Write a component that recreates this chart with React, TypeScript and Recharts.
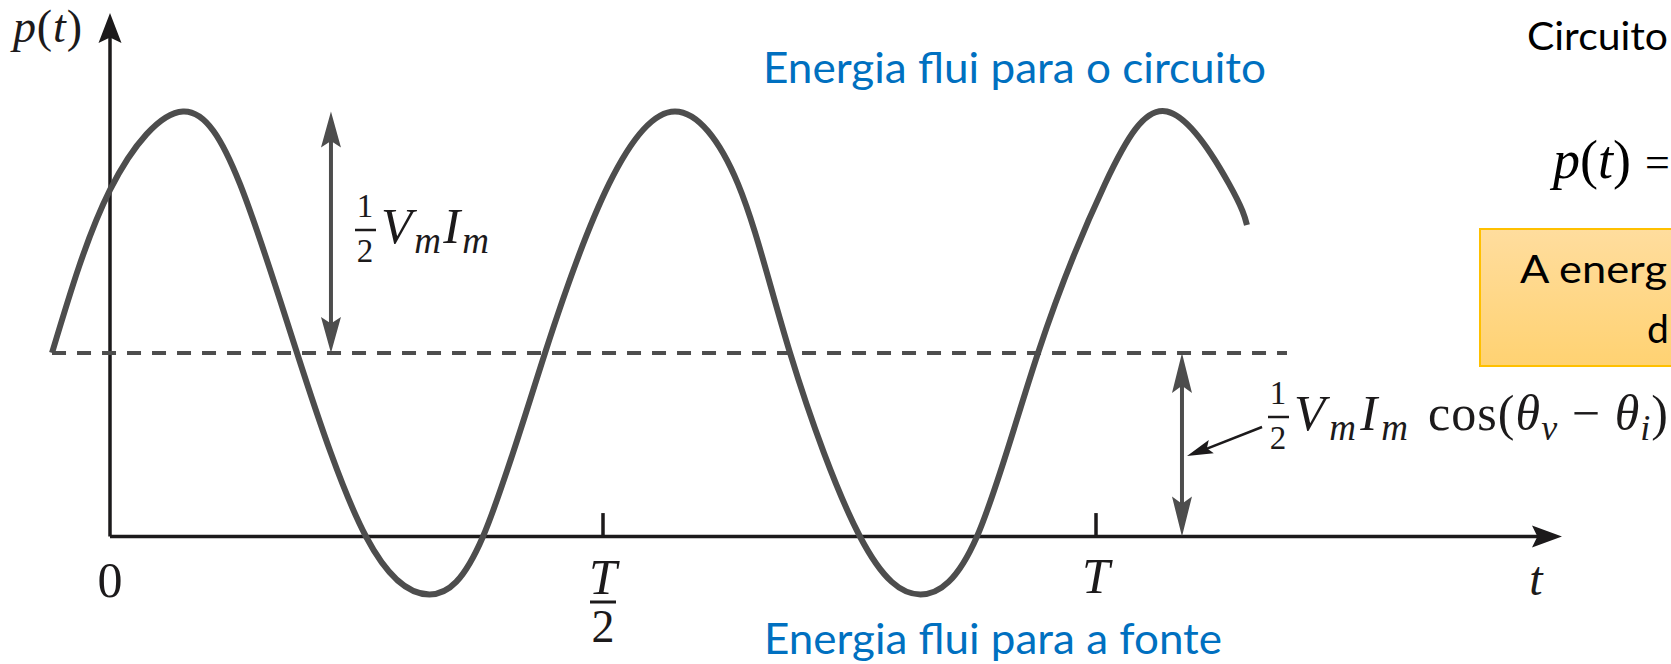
import { Line, LineChart, ReferenceDot, ReferenceLine, XAxis, YAxis } from "recharts";

// instantaneous power p(t): t in periods T, p in units of ½·Vm·Im above the time axis
const curveT = [
  -0.0588, 0, 0.074, 0.1318, 0.1897, 0.2596, 0.324, 0.3783, 0.4412, 0.5061, 0.573,
  0.6369, 0.6897, 0.7606, 0.822, 0.8793, 0.9412, 1.0091, 1.072, 1.1349, 1.1531,
];
const curveP = [
  0.76, 1.435, 1.76, 1.46, 0.76, 0, -0.24, 0, 0.76, 1.46, 1.76,
  1.46, 0.76, 0, -0.24, 0, 0.76, 1.46, 1.76, 1.46, 1.29,
];

// average power ½·Vm·Im·cos(θv − θi) and the peak it swings up to
const meanP = 0.76;
const peakP = 1.76;
const meanSpan = [-0.0588, 1.1937];

const tickValues = [0, 0.5, 1];
const tickMarks = [0.5, 1];
const tickMarkHeight = 0.097;

const yAxisTip = 2.168;
const xAxisTip = 1.4726;
const swingArrowT = 0.2241;
const meanArrowT = 1.0872;
const pointerFrom = { t: 1.1684, p: 0.4534 };
const pointerTo = { t: 1.0923, p: 0.3333 };

const data = curveT.map((t, i) => ({ t, p: curveP[i] }));

const W = 1671;
const H = 664;
const ORIGIN_X = 110;
const AXIS_Y = 536.5;
const PX_T = 986;
const PX_P = 241.5;
const AXIS_H = 30;
const X_DOMAIN: [number, number] = [-0.07, 1.5];
const Y_DOMAIN: [number, number] = [-(H - AXIS_H - AXIS_Y) / PX_P, AXIS_Y / PX_P];
const MARGIN = {
  top: 0,
  bottom: 0,
  left: ORIGIN_X + X_DOMAIN[0] * PX_T,
  right: W - (ORIGIN_X + X_DOMAIN[1] * PX_T),
};

const SERIF = "'Liberation Serif', 'Times New Roman', serif";
const SANS = "Lato, 'Open Sans', sans-serif";
const INK = "#1c1a1b";
const GREY = "#4d4d4d";
const BLUE = "#0070c0";

// stealth-style arrow head with its tip on the dot's position
function arrowHead(angle: number, len: number, half: number, fill: string) {
  return (props: any) => {
    const { cx, cy } = props;
    if (cx == null || cy == null) return <g />;
    const notch = len * 0.18;
    const pts = `0,0 ${-len},${-half} ${-len + notch},0 ${-len},${half}`;
    return <polygon points={pts} fill={fill} transform={`translate(${cx},${cy}) rotate(${angle})`} />;
  };
}

function TimeTick({ x, y, payload }: { x?: number; y?: number; payload?: { value: number } }) {
  if (x == null || y == null || payload == null) return null;
  const v = payload.value;
  if (v === 0) {
    return (
      <text x={x} y={y - 37} textAnchor="middle" fontFamily={SERIF} fontSize={50} fill={INK}>
        0
      </text>
    );
  }
  if (v === 0.5) {
    return (
      <g fontFamily={SERIF} fill={INK}>
        <text x={x} y={y - 40} textAnchor="middle" fontSize={50} fontStyle="italic">
          T
        </text>
        <line x1={x - 13} x2={x + 13} y1={y - 32} y2={y - 32} stroke={INK} strokeWidth={3} />
        <text x={x} y={y + 8} textAnchor="middle" fontSize={46}>
          2
        </text>
      </g>
    );
  }
  return (
    <text x={x} y={y - 41} textAnchor="middle" fontFamily={SERIF} fontSize={50} fontStyle="italic" fill={INK}>
      T
    </text>
  );
}

function HalfVmIm({ x, y, width }: { x: number; y: number; width: number }) {
  // x: left edge of the fraction, y: baseline of V
  return (
    <g fontFamily={SERIF} fill={INK}>
      <text x={x + 10} y={y - 26} textAnchor="middle" fontSize={33}>
        1
      </text>
      <line x1={x} x2={x + 21} y1={y - 13} y2={y - 13} stroke={INK} strokeWidth={2.5} />
      <text x={x + 10} y={y + 19} textAnchor="middle" fontSize={33}>
        2
      </text>
      <text x={x + 26} y={y} fontSize={51} fontStyle="italic" textLength={width} lengthAdjust="spacing">
        V
        <tspan fontSize={37} dy={10}>
          m
        </tspan>
        <tspan dy={-10}>I</tspan>
        <tspan fontSize={37} dy={10}>
          m
        </tspan>
      </text>
    </g>
  );
}

export default function App() {
  return (
    <div style={{ position: "absolute", left: 0, top: 0, width: W, height: H, overflow: "hidden", background: "#fff" }}>
      <LineChart width={W} height={H} data={data} margin={MARGIN}>
        <XAxis
          type="number"
          dataKey="t"
          domain={X_DOMAIN}
          allowDataOverflow
          ticks={tickValues}
          interval={0}
          axisLine={false}
          tickLine={false}
          tickSize={0}
          tickMargin={0}
          height={AXIS_H}
          tick={<TimeTick />}
        />
        <YAxis type="number" domain={Y_DOMAIN} allowDataOverflow hide />

        {/* axes */}
        <ReferenceLine segment={[{ x: 0, y: 0 }, { x: 0, y: yAxisTip - 0.08 }]} stroke={INK} strokeWidth={3.5} ifOverflow="visible" />
        <ReferenceLine segment={[{ x: 0, y: 0 }, { x: xAxisTip - 0.02, y: 0 }]} stroke={INK} strokeWidth={3.5} ifOverflow="visible" />
        <ReferenceDot x={0} y={yAxisTip} shape={arrowHead(-90, 30, 11.5, INK)} ifOverflow="visible" />
        <ReferenceDot x={xAxisTip} y={0} shape={arrowHead(0, 30, 11, INK)} ifOverflow="visible" />
        {tickMarks.map((t) => (
          <ReferenceLine key={t} segment={[{ x: t, y: 0 }, { x: t, y: tickMarkHeight }]} stroke={INK} strokeWidth={3.5} ifOverflow="visible" />
        ))}

        {/* average level */}
        <ReferenceLine
          segment={[{ x: meanSpan[0], y: meanP }, { x: meanSpan[1], y: meanP }]}
          stroke={GREY}
          strokeWidth={4}
          strokeDasharray="14 11"
          ifOverflow="visible"
        />

        {/* swing ½VmIm */}
        <ReferenceLine segment={[{ x: swingArrowT, y: meanP + 0.1 }, { x: swingArrowT, y: peakP - 0.1 }]} stroke={GREY} strokeWidth={4} ifOverflow="visible" />
        <ReferenceDot x={swingArrowT} y={peakP} shape={arrowHead(-90, 36, 10, GREY)} ifOverflow="visible" />
        <ReferenceDot x={swingArrowT} y={meanP} shape={arrowHead(90, 36, 10, GREY)} ifOverflow="visible" />

        {/* average ½VmIm cos(θv − θi) */}
        <ReferenceLine segment={[{ x: meanArrowT, y: 0.1 }, { x: meanArrowT, y: meanP - 0.1 }]} stroke={GREY} strokeWidth={4} ifOverflow="visible" />
        <ReferenceDot x={meanArrowT} y={meanP} shape={arrowHead(-90, 40, 10, GREY)} ifOverflow="visible" />
        <ReferenceDot x={meanArrowT} y={0} shape={arrowHead(90, 40, 10, GREY)} ifOverflow="visible" />
        <ReferenceLine
          segment={[{ x: pointerFrom.t, y: pointerFrom.p }, { x: pointerTo.t + 0.01, y: pointerTo.p + 0.014 }]}
          stroke={INK}
          strokeWidth={2.5}
          ifOverflow="visible"
        />
        <ReferenceDot x={pointerTo.t} y={pointerTo.p} shape={arrowHead(158.9, 26, 7, INK)} ifOverflow="visible" />

        <Line type="natural" dataKey="p" stroke={GREY} strokeWidth={6} dot={false} activeDot={false} isAnimationActive={false} />
      </LineChart>

      <svg width={W} height={H} style={{ position: "absolute", left: 0, top: 0, pointerEvents: "none" }}>
        <defs>
          <linearGradient id="noteFill" x1="0" y1="0" x2="0" y2="1">
            <stop offset="0" stopColor="#ffdd9e" />
            <stop offset="1" stopColor="#ffd272" />
          </linearGradient>
        </defs>

        <text x={13} y={42} fontFamily={SERIF} fontSize={46} fill={INK} textLength={69} lengthAdjust="spacing">
          <tspan fontStyle="italic">p</tspan>(<tspan fontStyle="italic">t</tspan>)
        </text>
        <text x={1536} y={595} textAnchor="middle" fontFamily={SERIF} fontSize={48} fontStyle="italic" fill={INK}>
          t
        </text>

        <HalfVmIm x={355} y={243} width={108} />
        <HalfVmIm x={1268} y={430} width={114} />
        <text x={1428} y={430} fontFamily={SERIF} fontSize={50} fill={INK} textLength={240} lengthAdjust="spacing">
          cos(<tspan fontStyle="italic">θ</tspan>
          <tspan fontSize={36} dy={10} fontStyle="italic">
            v
          </tspan>
          <tspan dy={-10}> − </tspan>
          <tspan fontStyle="italic">θ</tspan>
          <tspan fontSize={36} dy={10} fontStyle="italic">
            i
          </tspan>
          <tspan dy={-10}>)</tspan>
        </text>

        <text x={763} y={83} fontFamily={SANS} fontSize={42} fill={BLUE} textLength={503} lengthAdjust="spacingAndGlyphs">
          Energia flui para o circuito
        </text>
        <text x={764} y={654} fontFamily={SANS} fontSize={42} fill={BLUE} textLength={458} lengthAdjust="spacingAndGlyphs">
          Energia flui para a fonte
        </text>

        <text x={1527} y={50} fontFamily={SANS} fontSize={39} fill="#000" textLength={141} lengthAdjust="spacingAndGlyphs">
          Circuito
        </text>
        <text x={1553} y={178} fontFamily={SERIF} fontSize={54} fill="#000">
          <tspan fontStyle="italic">p</tspan>(<tspan fontStyle="italic">t</tspan>)
        </text>
        <text x={1645} y={177} fontFamily={SERIF} fontSize={44} fill="#000">
          =
        </text>

        <rect x={1480} y={229} width={220} height={137} fill="url(#noteFill)" stroke="#ffc000" strokeWidth={2} />
        <text x={1520} y={283} fontFamily={SANS} fontSize={39} fill="#000" textLength={147} lengthAdjust="spacingAndGlyphs">
          A energ
        </text>
        <text x={1647} y={343} fontFamily={SANS} fontSize={39} fill="#000">
          d
        </text>
      </svg>
    </div>
  );
}
